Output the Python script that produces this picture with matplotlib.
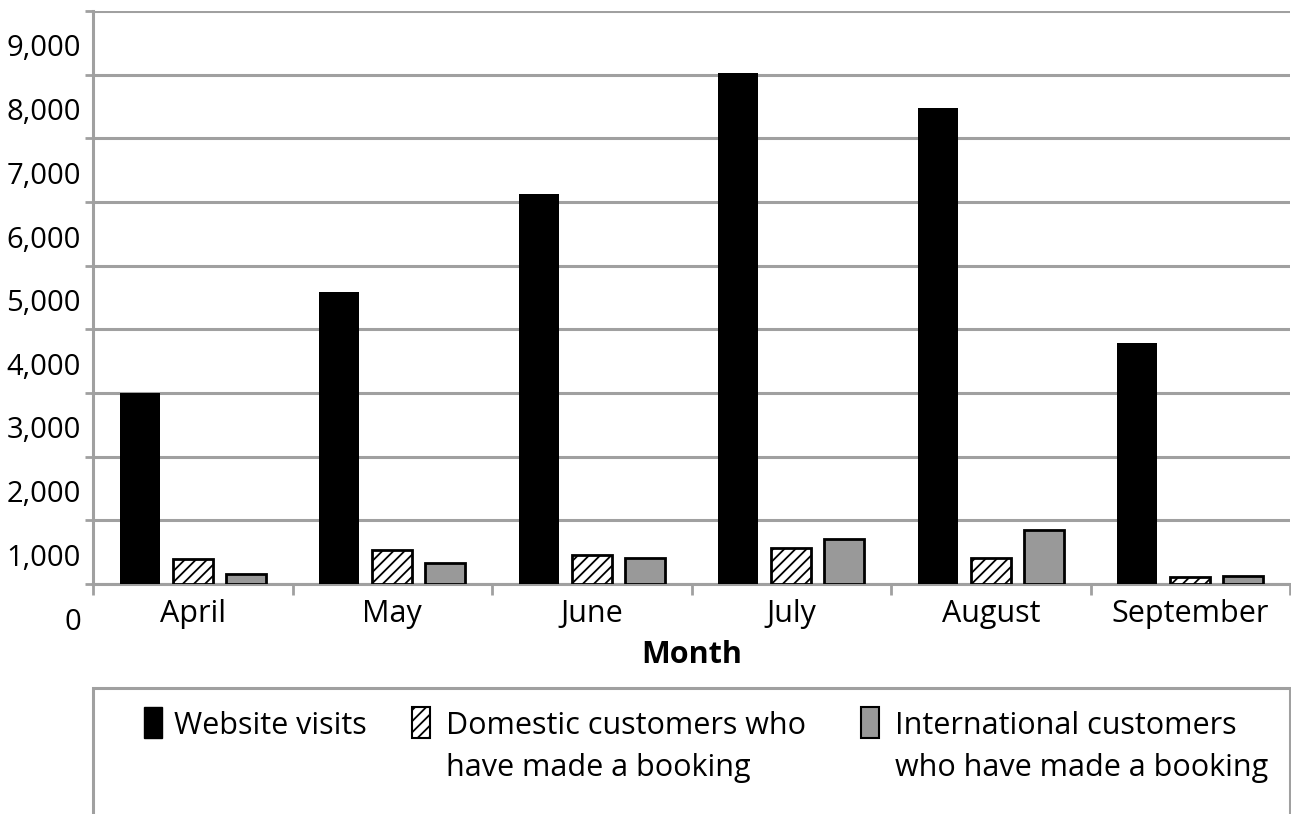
import matplotlib
matplotlib.use("Agg")
import matplotlib.pyplot as plt
import matplotlib.transforms as mtransforms
from matplotlib.patches import Rectangle
import numpy as np

plt.rcParams['font.family'] = ['Open Sans', 'DejaVu Sans']
plt.rcParams['hatch.linewidth'] = 1.3

months = ["April", "May", "June", "July", "August", "September"]
website_visits = [3000, 4580, 6130, 8030, 7470, 3780]
domestic = [390, 535, 455, 565, 408, 110]
international = [157, 330, 410, 706, 848, 125]
series_names = ["Website visits", "Domestic customers who\nhave made a booking",
                "International customers\nwho have made a booking"]
y_ticks = list(range(0, 10000, 1000))
y_labels = ["0", "1,000", "2,000", "3,000", "4,000", "5,000", "6,000", "7,000", "8,000", "9,000"]

W, H = 1291, 814
FS = 22
fig = plt.figure(figsize=(W / 100, H / 100), dpi=100)
ax = fig.add_axes([93 / W, (H - 584) / H, (1290 - 93) / W, (584 - 11) / H])

x = np.arange(len(months))
bw = 0.2
off = 0.266
grid_c = "#a0a0a0"
ax.bar(x - off, website_visits, bw, color="black", edgecolor="black", linewidth=0, zorder=3)
ax.bar(x, domestic, bw, color="white", edgecolor="black", linewidth=2.0, hatch="///", zorder=3)
ax.bar(x + off, international, bw, color="#999999", edgecolor="black", linewidth=2.0, zorder=3)

ax.set_xlim(-0.5, len(months) - 0.5)
ax.set_ylim(0, 9000)

# gridlines
ax.set_yticks(y_ticks)
ax.set_yticklabels([])
ax.yaxis.grid(True, color=grid_c, linewidth=2.2, zorder=0)
ax.set_axisbelow(True)
ax.tick_params(axis="y", length=6, width=2, color=grid_c, direction="out")

# y labels shifted down by half a step
offset = mtransforms.ScaledTranslation(0, -38 / 100, fig.dpi_scale_trans)
trans = mtransforms.blended_transform_factory(ax.transAxes, ax.transData) + offset
for v, lab in zip(y_ticks, y_labels):
    ax.text(-12 / (1290 - 93), v, lab, transform=trans,
            ha="right", va="center", fontsize=21, clip_on=False)

ax.set_xticks(x)
ax.set_xticklabels(months, fontsize=FS)
ax.tick_params(axis="x", which="major", length=0, pad=11)
ax.set_xticks(np.arange(-0.5, len(months), 1.0), minor=True)
ax.tick_params(axis="x", which="minor", length=8, width=2, color=grid_c, direction="out")

for s in ["top", "right"]:
    ax.spines[s].set_visible(False)
for s in ["left", "bottom"]:
    ax.spines[s].set_color(grid_c)
    ax.spines[s].set_linewidth(2.2)

fig.text(692 / W, 1 - 655 / H, "Month", ha="center", va="center", fontsize=FS, fontweight="bold")

# legend box
fig.patches.append(Rectangle((93 / W, -0.1), (1290 - 93) / W, (H - 688) / H + 0.1,
                             transform=fig.transFigure, facecolor="none",
                             edgecolor=grid_c, linewidth=2.2))
mk_w, mk_h = 18 / W, 31 / H
my = 1 - 738 / H
fig.patches.append(Rectangle((144 / W, my), mk_w, mk_h, transform=fig.transFigure,
                             facecolor="black", edgecolor="black", linewidth=1))
fig.patches.append(Rectangle((412 / W, my), mk_w, mk_h, transform=fig.transFigure,
                             facecolor="white", edgecolor="black", linewidth=1.5, hatch="///"))
fig.patches.append(Rectangle((861 / W, my), mk_w, mk_h, transform=fig.transFigure,
                             facecolor="#999999", edgecolor="black", linewidth=1.5))
for xt, name in zip([174, 446, 895], series_names):
    for i, line in enumerate(name.split("\n")):
        fig.text(xt / W, 1 - (726 + 42 * i) / H, line, ha="left", va="center", fontsize=FS)

fig.savefig("out.png", dpi=100)
